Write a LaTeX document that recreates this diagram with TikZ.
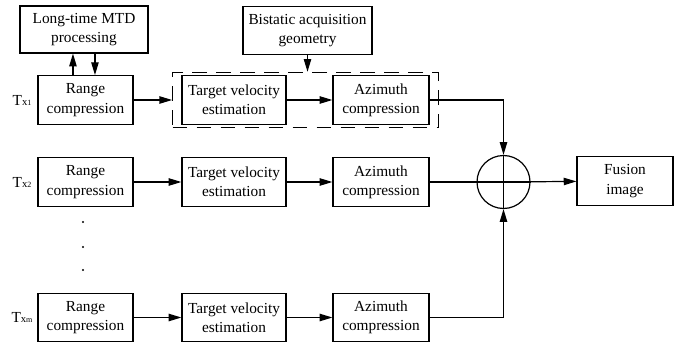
\documentclass[tikz,border=0pt]{standalone}
\usepackage{fontspec}
\setmainfont{Liberation Serif}
\newfontfamily\blockfont{Liberation Serif}
\usetikzlibrary{arrows.meta,fit}

\begin{document}
\begin{tikzpicture}[
    x=0.75pt, y=-0.75pt,
    every node/.style={font=\blockfont\fontsize{11.5}{14.5}\selectfont},
    block/.style={rectangle, draw, line width=0.9pt, align=center, minimum height=36.5pt, inner sep=0pt},
    rangebox/.style={block, minimum width=71.25pt},
    velbox/.style={block, minimum width=78pt},
    azibox/.style={block, minimum width=72pt},
    sumnode/.style={circle, draw, line width=0.9pt, minimum size=39.75pt, inner sep=0pt},
    txlabel/.style={inner sep=0pt},
    arrow/.style={-{Triangle[length=9.5pt,width=5.5pt]}, line width=0.9pt},
    link/.style={line width=0.9pt}
]
\useasboundingbox (0,0) rectangle (689,346);

% Channel 1
\node[txlabel] (tx1) at (22,100) {T{\footnotesize x}{\fontsize{6}{6}\selectfont 1}};
\node[rangebox] (rc1) at (85.5,100) {Range\\compression};
\node[velbox] (tv1) at (234,100) {Target velocity\\estimation};
\node[azibox] (az1) at (381,100) {Azimuth\\compression};

% Channel 2
\node[txlabel] (tx2) at (22,182) {T{\footnotesize x}{\fontsize{6}{6}\selectfont 2}};
\node[rangebox] (rc2) at (85.5,182) {Range\\compression};
\node[velbox] (tv2) at (234,182) {Target velocity\\estimation};
\node[azibox] (az2) at (381,182) {Azimuth\\compression};

% Channel m
\node[txlabel] (txm) at (22,317.5) {T{\footnotesize x}{\fontsize{6}{6}\selectfont m}};
\node[rangebox] (rcm) at (85.5,317.5) {Range\\compression};
\node[velbox] (tvm) at (234,317.5) {Target velocity\\estimation};
\node[azibox] (azm) at (381,317.5) {Azimuth\\compression};

% Dots between channels
\foreach \y in {222,247,270}
    \fill (83,\y) circle (0.8pt);

% Side processing
\node[block, minimum width=96pt, minimum height=35.25pt] (mtd) at (84,29.5) {Long-time MTD\\processing};
\node[block, minimum width=96.75pt] (geo) at (307.5,30.5) {Bistatic acquisition\\geometry};

% Velocity/azimuth group of channel 1
\node[draw, line width=0.9pt, dash pattern=on 11pt off 7pt, inner xsep=6.5pt, inner ysep=2pt, fit=(tv1)(az1)] (grp) {};

% Fusion
\node[sumnode] (sum) at (503.5,182) {};
\node[block, minimum width=72pt] (fus) at (625,181) {Fusion\\image};

% Arrows
\draw[arrow] ([xshift=-9.4pt]rc1.north) -- ([xshift=-9.4pt]rc1.north |- mtd.south);
\draw[arrow] ([xshift=7.1pt]rc1.north |- mtd.south) -- ([xshift=7.1pt]rc1.north);
\draw[arrow] (geo.south) -- (geo.south |- grp.north);

\draw[arrow] (rc1) -- (grp.west);
\draw[arrow] (tv1) -- (az1);
\draw[arrow] (az1.east) -| (sum.north);

\draw[arrow] (rc2) -- (tv2);
\draw[arrow] (tv2) -- (az2);
\draw[link] (az2.east) -- (sum.west);

\draw[arrow] (rcm) -- (tvm);
\draw[arrow] (tvm) -- (azm);
\draw[arrow] (azm.east) -| (sum.south);

\draw[link] (sum.north) -- (sum.south);
\draw[link] (sum.west) -- (sum.east);
\draw[arrow] (sum) -- (fus);

\end{tikzpicture}
\end{document}
